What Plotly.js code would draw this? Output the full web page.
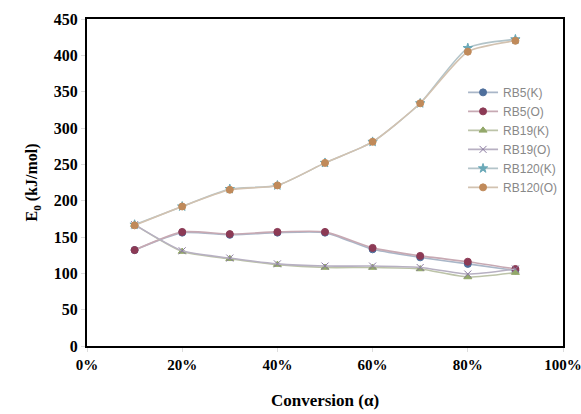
<!DOCTYPE html>
<html>
<head>
<meta charset="utf-8">
<script src="https://cdn.plot.ly/plotly-3.0.1.min.js"></script>
<style>html,body{margin:0;padding:0;background:#fff;}#chart{width:581px;height:414px;}</style>
</head>
<body>
<div id="chart"></div>
<script>
var conversion = [0.1, 0.2, 0.3, 0.4, 0.5, 0.6, 0.7, 0.8, 0.9];
var seriesNames = ["RB5(K)", "RB5(O)", "RB19(K)", "RB19(O)", "RB120(K)", "RB120(O)"];
var rb5K   = [132, 156, 153, 156, 156, 133, 122, 113, 104];
var rb5O   = [132, 157, 154, 157, 157, 135, 124, 116, 106];
var rb19K  = [167, 130, 120, 112, 108, 108, 106, 95, 101];
var rb19O  = [167, 131, 121, 113, 110, 110, 108, 99, 106];
var rb120K = [167, 192, 216, 221, 252, 281, 334, 410, 422];
var rb120O = [166, 192, 215, 221, 252, 281, 334, 405, 420];
var xTickVals = [0, 0.2, 0.4, 0.6, 0.8, 1.0];
var xTickText = ["0%", "20%", "40%", "60%", "80%", "100%"];

var values = [rb5K, rb5O, rb19K, rb19O, rb120K, rb120O];
var lineColors = ["#a9b6c8", "#c7a9b3", "#bcc3a8", "#b7b0c2", "#b3c4c9", "#d2c2b0"];
var markerColors = ["#4f6f9c", "#8c3a55", "#93a86a", "#8a7aa0", "#6aa9b8", "#c08a5a"];
var symbols = ["circle", "circle", "triangle-up", "x-thin-open", "star", "circle"];

var traces = values.map(function(v, i) {
  return {
    x: conversion, y: v, name: seriesNames[i], type: "scatter", mode: "lines+markers",
    line: {color: lineColors[i], width: 1.6, shape: "spline", smoothing: 0.6},
    marker: {color: markerColors[i], symbol: symbols[i], size: 7,
             line: {color: markerColors[i], width: 1}}
  };
});

var layout = {
  width: 581, height: 414,
  margin: {l: 87, r: 18, t: 19, b: 68},
  paper_bgcolor: "#fff", plot_bgcolor: "#fff",
  showlegend: true,
  legend: {x: 0.79, y: 0.82, xanchor: "left", yanchor: "top", bgcolor: "rgba(0,0,0,0)",
           font: {family: "Liberation Sans, Arial", size: 12, color: "#888"},
           tracegroupgap: 0, itemwidth: 30},
  xaxis: {
    range: [0, 1], tickvals: xTickVals, ticktext: xTickText,
    showgrid: false, zeroline: false, automargin: false,
    ticklabeloverflow: "allow",
    showline: true, linecolor: "#000", linewidth: 2, mirror: true,
    ticks: "outside", ticklen: 4, tickcolor: "#ddd",
    tickfont: {family: "Liberation Serif, Times New Roman", size: 15, color: "#000", weight: "bold"},
    title: {text: "<b>Conversion (α)</b>", standoff: 22,
            font: {family: "Liberation Serif, Times New Roman", size: 17, color: "#000"}}
  },
  yaxis: {
    range: [0, 450], dtick: 50, automargin: false,
    showgrid: false, zeroline: false,
    showline: true, linecolor: "#000", linewidth: 2, mirror: true,
    ticks: "outside", ticklen: 4, tickcolor: "#ddd",
    tickfont: {family: "Liberation Serif, Times New Roman", size: 16, color: "#000", weight: "bold"},
    title: {text: "<b>E<sub>0</sub> (kJ/mol)</b>", standoff: 12,
            font: {family: "Liberation Serif, Times New Roman", size: 16, color: "#000"}}
  }
};

Plotly.newPlot("chart", traces, layout, {displayModeBar: false, staticPlot: true});
</script>
</body>
</html>
